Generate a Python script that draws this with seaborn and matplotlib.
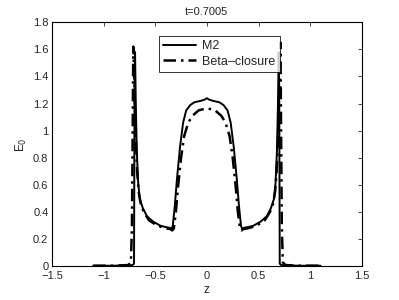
import seaborn as sns
import matplotlib.pyplot as plt
import pandas as pd

# M2 profile
z_m2 = [-1.1, -0.9, -0.75, -0.72, -0.705, -0.700, -0.695, -0.688, -0.678, -0.665, -0.65, -0.62,
        -0.58, -0.52, -0.45, -0.40, -0.36, -0.345, -0.33, -0.31, -0.29, -0.26, -0.23, -0.20,
        -0.16, -0.12, -0.06, -0.02, 0.0,
        0.02, 0.06, 0.12, 0.16, 0.20, 0.23, 0.26, 0.29, 0.31, 0.33, 0.345, 0.36, 0.40,
        0.45, 0.52, 0.58, 0.62, 0.65, 0.665, 0.678, 0.688, 0.695, 0.700, 0.705, 0.72, 0.75,
        0.9, 1.1]
e_m2 = [0.005, 0.005, 0.008, 0.01, 0.02, 1.3, 1.58, 1.2, 0.85, 0.62, 0.5, 0.43,
        0.37, 0.33, 0.30, 0.29, 0.285, 0.27, 0.30, 0.45, 0.64, 0.88, 1.06, 1.15,
        1.19, 1.21, 1.22, 1.23, 1.24,
        1.23, 1.22, 1.21, 1.19, 1.15, 1.06, 0.88, 0.64, 0.45, 0.30, 0.27, 0.285, 0.29,
        0.30, 0.33, 0.37, 0.43, 0.5, 0.62, 0.85, 1.2, 1.58, 1.3, 0.02, 0.01, 0.008,
        0.005, 0.005]

# Beta-closure profile
z_beta = [-1.1, -0.9, -0.76, -0.735, -0.725, -0.718, -0.712, -0.700, -0.688, -0.675, -0.66, -0.64,
          -0.61, -0.56, -0.50, -0.44, -0.39, -0.35, -0.335, -0.32, -0.30, -0.28, -0.25, -0.22,
          -0.18, -0.14, -0.08, -0.03, 0.0,
          0.03, 0.08, 0.14, 0.18, 0.22, 0.25, 0.28, 0.30, 0.32, 0.335, 0.35, 0.39, 0.44,
          0.50, 0.56, 0.61, 0.64, 0.66, 0.675, 0.688, 0.700, 0.712, 0.718, 0.725, 0.735, 0.76,
          0.9, 1.1]
e_beta = [0.005, 0.005, 0.01, 0.03, 0.3, 1.0, 1.62, 1.3, 0.95, 0.7, 0.55, 0.46,
          0.40, 0.34, 0.31, 0.29, 0.28, 0.275, 0.265, 0.28, 0.40, 0.58, 0.80, 0.96,
          1.06, 1.11, 1.15, 1.16, 1.165,
          1.16, 1.15, 1.11, 1.06, 0.96, 0.80, 0.58, 0.40, 0.28, 0.265, 0.275, 0.28, 0.29,
          0.31, 0.34, 0.40, 0.46, 0.55, 0.7, 0.95, 1.3, 1.65, 1.0, 0.3, 0.03, 0.01,
          0.005, 0.005]

x_ticks = [-1.5, -1, -0.5, 0, 0.5, 1, 1.5]
x_labels = ['\u22121.5', '\u22121', '\u22120.5', '0', '0.5', '1', '1.5']
y_ticks = [0, 0.2, 0.4, 0.6, 0.8, 1, 1.2, 1.4, 1.6, 1.8]
y_labels = ['0', '0.2', '0.4', '0.6', '0.8', '1', '1.2', '1.4', '1.6', '1.8']

sns.set_style("white")
plt.rcParams['font.family'] = ['Liberation Sans', 'DejaVu Sans']
plt.rcParams['axes.unicode_minus'] = False

fig = plt.figure(figsize=(3.99, 3.0), dpi=100)
ax = fig.add_axes([0.13, 0.112, 0.777, 0.814])

df_m2 = pd.DataFrame({'z': z_m2, 'E': e_m2})
df_beta = pd.DataFrame({'z': z_beta, 'E': e_beta})

sns.lineplot(data=df_m2, x='z', y='E', ax=ax, color='black', linewidth=1.4,
             estimator=None, sort=False, label='M2')
sns.lineplot(data=df_beta, x='z', y='E', ax=ax, color='black', linewidth=1.8,
             linestyle=(0, (5, 2, 1, 2)), estimator=None, sort=False, label='Beta\u2013closure')

ax.set_xlim(-1.5, 1.5)
ax.set_ylim(0, 1.8)
ax.set_xticks(x_ticks)
ax.set_xticklabels(x_labels)
ax.set_yticks(y_ticks)
ax.set_yticklabels(y_labels)
ax.tick_params(direction='in', top=True, right=True, length=3, width=0.6, labelsize=8)
ax.tick_params(axis='x', pad=3.5)
ax.tick_params(axis='y', pad=2.5)
for s in ax.spines.values():
    s.set_color('black')
    s.set_linewidth(0.8)

ax.set_xlabel('z', fontsize=8.5, labelpad=2)
ax.set_ylabel('E$_0$', fontsize=8.5, labelpad=3)
ax.set_title('t=0.7005', fontsize=8, pad=5)

leg = ax.legend(loc='upper center', bbox_to_anchor=(0.54, 0.943), borderaxespad=0,
                fontsize=9, frameon=True, fancybox=False, edgecolor='black',
                handlelength=2.6, borderpad=0.35, labelspacing=0.25, handletextpad=0.5)
leg.get_frame().set_linewidth(0.7)

plt.savefig('out.png', dpi=100)
